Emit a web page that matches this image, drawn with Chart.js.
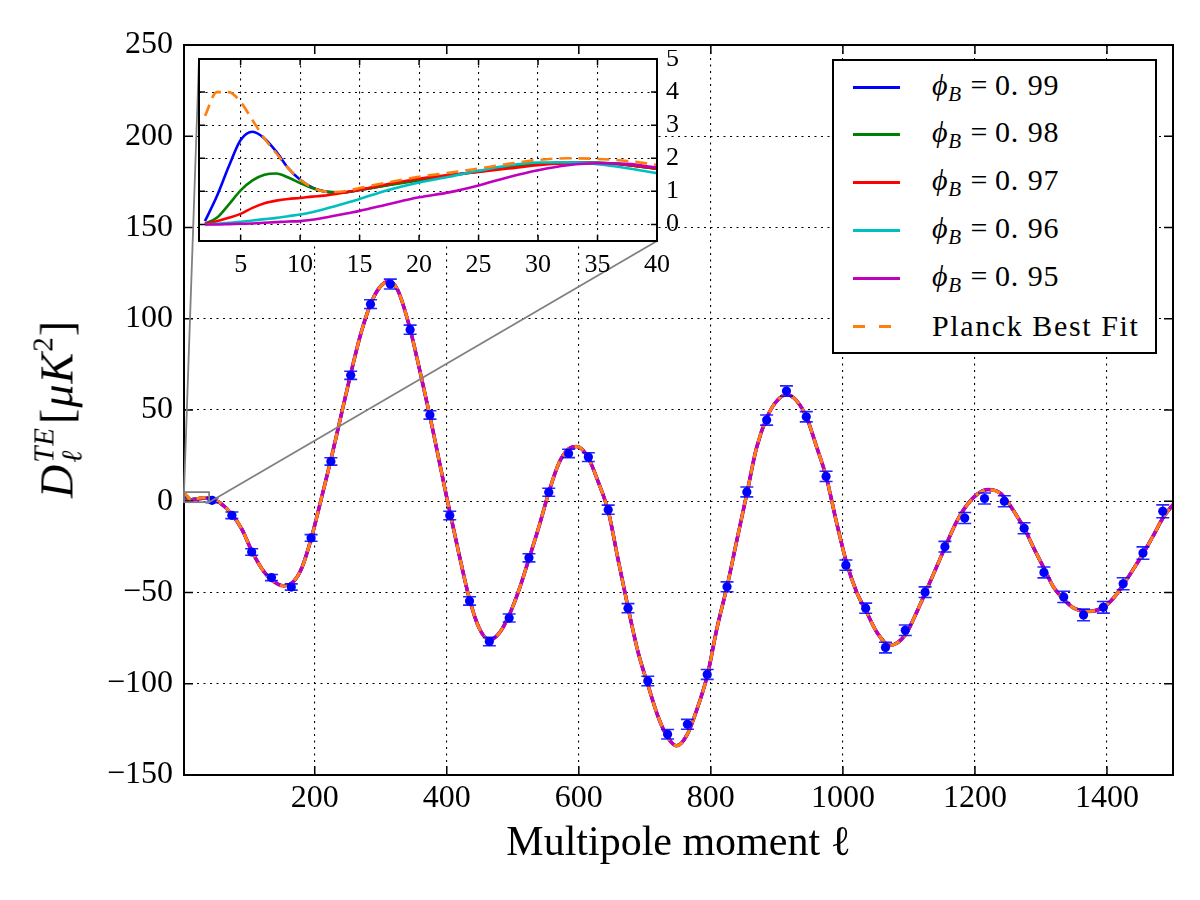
<!DOCTYPE html>
<html>
<head>
<meta charset="utf-8">
<script src="https://cdn.jsdelivr.net/npm/chart.js@4.4.1/dist/chart.umd.min.js"></script>
<style>
html,body{margin:0;padding:0;background:#fff;}
#wrap{position:relative;width:1200px;height:900px;overflow:hidden;}
#main{position:absolute;left:0;top:0;}
#inset{position:absolute;left:190px;top:50px;}
.serif{font-family:"Liberation Serif","DejaVu Serif",serif;color:#000;}
#legend{position:absolute;left:832px;top:59px;width:325px;height:295px;border:2px solid #000;background:#fff;box-sizing:border-box;}
.row{position:absolute;left:0;height:40px;display:flex;align-items:center;width:100%;}
.swatch{position:absolute;left:19px;width:47px;height:3px;}
.lbl{position:absolute;left:98px;font-size:30px;white-space:nowrap;line-height:1;}
.lbl sub{font-size:21px;vertical-align:-6px;}
#ytitle{position:absolute;left:58px;top:409px;transform:translate(-50%,-50%) rotate(-90deg);white-space:nowrap;font-size:46px;line-height:1;letter-spacing:1px;}
.supsub{display:inline-flex;flex-direction:column;vertical-align:19px;font-size:29px;font-style:italic;line-height:0.95;margin:0 3px 0 1px;}
.sq{font-size:29px;position:relative;top:-20px;}
</style>
</head>
<body>
<div id="wrap">
  <canvas id="main" width="1200" height="900"></canvas>
  <canvas id="inset" width="520" height="250"></canvas>
  <div id="ytitle" class="serif"><i>D</i><span class="supsub"><span>TE</span><span>ℓ</span></span>[<i>μK</i><span class="sq">2</span>]</div>
  <div id="legend" class="serif"></div>
</div>
<script>
// ---------------- DATA ----------------
// low-ℓ model curves (shown in the inset), multipole ℓ
const insetEll = [2,3,4,5,6,7,8,9,10,11,12,13,14,15,17.5,20,22.5,25,27.5,30,32.5,35,37.5,40];
const phi099 = [0.1,0.85,1.75,2.55,2.8,2.6,2.2,1.7,1.35,1.12,1.0,0.97,0.98,1.04,1.2,1.36,1.48,1.6,1.72,1.82,1.86,1.86,1.8,1.68];
const phi098 = [0.02,0.2,0.6,1.03,1.33,1.5,1.54,1.42,1.25,1.1,1.0,0.97,0.98,1.04,1.19,1.33,1.47,1.6,1.72,1.82,1.86,1.86,1.8,1.68];
const phi097 = [0.02,0.1,0.2,0.32,0.5,0.64,0.72,0.77,0.8,0.84,0.87,0.92,0.98,1.05,1.23,1.38,1.49,1.59,1.69,1.79,1.85,1.85,1.8,1.69];
const phi096 = [0,0.02,0.05,0.08,0.12,0.16,0.2,0.25,0.3,0.37,0.46,0.56,0.66,0.77,1.05,1.27,1.44,1.62,1.78,1.87,1.88,1.82,1.7,1.55];
const phi095 = [0,0,0.01,0.02,0.03,0.05,0.07,0.09,0.1,0.14,0.2,0.27,0.34,0.41,0.62,0.82,0.97,1.18,1.43,1.64,1.79,1.85,1.83,1.72];
const planckLow = [3.28,4.0,4.0,3.7,3.15,2.6,2.15,1.7,1.35,1.12,1.0,0.98,1.02,1.1,1.28,1.44,1.56,1.69,1.83,1.95,2.0,1.98,1.92,1.8];

// high-ℓ part, common to all curves
const highEll = [45,57,75,90,105,120,136,153,169,181,195,209,224,239,254,270,284,298,312,326,344,358,374,388,400,418,434,449,465,480,495,510,525,540,555,570,584,597,614,629,645,659,675,690,705,720,734,748,764,778,795,809,825,839,855,869,885,900,915,930,945,960,975,990,1005,1021,1035,1051,1071,1095,1109,1125,1140,1155,1170,1185,1203,1220,1238,1248,1259,1275,1289,1305,1319,1335,1350,1372,1395,1410,1425,1441,1455,1471,1485,1500];
const highTE = [1.2,-1.0,-7.3,-15.6,-27.5,-37.0,-43.5,-46.3,-43.5,-36,-20,0,22,45.5,69,92,107.5,117,120.5,115.5,95,73.5,47.5,23,2,-28,-53,-69.5,-76,-72,-62,-48,-31,-13.5,5.5,21,28.5,30,24,11,-6,-31,-59,-83,-101,-118,-129,-134,-128,-115,-95,-70,-46,-22,5,29,46,55,58.5,55,46,30,13,-11,-33,-50,-60,-71.5,-79,-73,-63,-50,-37.6,-25,-12.8,-3.5,3.7,6.4,4.5,0.5,-5.5,-15,-25.6,-37,-47,-54,-58.6,-60.4,-58,-53,-45.5,-36.6,-28.5,-18.3,-9,-1.8];

// binned data points
const dataEll = [44.5,74.5,104.5,134.5,164.5,194.5,224.5,254.5,284.5,314.5,344.5,374.5,404.5,434.5,464.5,494.5,524.5,554.5,584.5,614.5,644.5,674.5,704.5,734.5,764.5,794.5,824.5,854.5,884.5,914.5,944.5,974.5,1004.5,1034.5,1064.5,1094.5,1124.5,1154.5,1184.5,1214.5,1244.5,1274.5,1304.5,1334.5,1364.5,1394.5,1424.5,1454.5,1484.5];
const dataTE = [0.5,-7.7,-27.8,-41.8,-47,-20.1,21.8,69,108,119,94,47.3,-7.8,-54.6,-76.9,-64,-31,4.9,26.2,24.2,-4.6,-58.6,-98.5,-127.7,-122.2,-94.9,-46.9,5.1,44.5,60.4,46.3,13.6,-35,-58.6,-80.2,-70.7,-49.8,-24.9,-9.2,1.5,0,-14.8,-39,-52.4,-62.3,-58.1,-45.2,-28.4,-5.5];
const dataErr = [1.3,1.8,1.8,1.7,1.7,1.8,2.0,2.2,2.4,2.7,2.5,2.3,2.3,2.3,2.3,2.2,2.2,2.2,2.3,2.4,2.5,2.5,2.6,2.6,2.7,2.7,2.7,2.7,2.8,2.8,2.8,2.8,2.8,2.8,2.9,2.9,2.9,2.9,3.0,3.0,3.0,3.0,3.0,3.1,3.2,3.2,3.3,3.4,3.5];

const seriesNames = ['ϕB = 0.99','ϕB = 0.98','ϕB = 0.97','ϕB = 0.96','ϕB = 0.95','Planck Best Fit'];
const seriesLow = [phi099, phi098, phi097, phi096, phi095, planckLow];
const seriesColors = ['#0000ff','#008000','#ff0000','#00bfbf','#bf00bf','#ff7f0e'];
const phiValues = ['0.99','0.98','0.97','0.96','0.95'];

const mainXTicks = [200,400,600,800,1000,1200,1400];
const mainYTicks = [-150,-100,-50,0,50,100,150,200,250];
const insetXTicks = [5,10,15,20,25,30,35,40];
const insetYTicks = [0,1,2,3,4,5];
const mainXRange = [2,1500];
const mainYRange = [-150,250];
const insetXRange = [1.5,40];
const insetYRange = [-0.5,5];

// ---------------- HELPERS ----------------
Chart.defaults.font.family = "'Liberation Serif','DejaVu Serif',serif";
Chart.defaults.color = '#000';
const fmt = v => (v < 0 ? '\u2212' + Math.abs(v) : String(v));
const pts = (xs, ys) => xs.map((x, i) => ({x, y: ys[i]}));

const framePlugin = {
  id: 'frameTicks',
  beforeDraw(chart, args, opts) {
    if (!opts.fill) return;
    const a = chart.chartArea, ctx = chart.ctx;
    ctx.save(); ctx.fillStyle = opts.fill;
    ctx.fillRect(a.left, a.top, a.right - a.left, a.bottom - a.top);
    ctx.restore();
  },
  afterDatasetsDraw(chart, args, opts) {
    const {ctx, chartArea: a, scales: {x, y}} = chart;
    const L = opts.len || 8;
    ctx.save();
    ctx.strokeStyle = '#000'; ctx.lineWidth = 1.5;
    ctx.beginPath();
    x.ticks.forEach(t => {
      const px = x.getPixelForValue(t.value);
      ctx.moveTo(px, a.bottom); ctx.lineTo(px, a.bottom - L);
      ctx.moveTo(px, a.top); ctx.lineTo(px, a.top + L);
    });
    y.ticks.forEach(t => {
      const py = y.getPixelForValue(t.value);
      ctx.moveTo(a.left, py); ctx.lineTo(a.left + L, py);
      ctx.moveTo(a.right, py); ctx.lineTo(a.right - L, py);
    });
    ctx.stroke();
    ctx.lineWidth = opts.frameWidth || 2;
    ctx.strokeRect(a.left, a.top, a.right - a.left, a.bottom - a.top);
    ctx.restore();
  }
};

const errorBarPlugin = {
  id: 'errorBars',
  beforeDatasetDraw(chart, args) {
    const ds = chart.data.datasets[args.index];
    if (!ds.errors) return;
    const {ctx, scales: {x, y}} = chart;
    ctx.save();
    ctx.strokeStyle = 'rgba(0,0,255,0.85)'; ctx.lineWidth = 1.6;
    ds.data.forEach((p, i) => {
      const px = x.getPixelForValue(p.x);
      const y1 = y.getPixelForValue(p.y - ds.errors[i]);
      const y2 = y.getPixelForValue(p.y + ds.errors[i]);
      ctx.beginPath();
      ctx.moveTo(px, y1); ctx.lineTo(px, y2);
      ctx.moveTo(px - 6.5, y1); ctx.lineTo(px + 6.5, y1);
      ctx.moveTo(px - 6.5, y2); ctx.lineTo(px + 6.5, y2);
      ctx.stroke();
    });
    ctx.restore();
  }
};

function zeroPad(s) { s.paddingTop = 0; s.paddingBottom = 0; s.paddingLeft = 0; s.paddingRight = 0; }

function axisCommon(range, ticks, font, padding) {
  return {
    type: 'linear', min: range[0], max: range[1],
    afterBuildTicks: s => { s.ticks = ticks.map(v => ({value: v})); },
    ticks: {callback: v => fmt(v), font: {size: font}, color: '#000', padding: padding, autoSkip: false, maxRotation: 0},
    grid: {color: '#000', lineWidth: 1.1, drawTicks: false},
    border: {display: false, dash: [2, 4.5]}
  };
}

// ---------------- INSET ----------------
const insetDatasets = seriesLow.map((arr, i) => ({
  label: seriesNames[i],
  data: pts(insetEll, arr),
  borderColor: seriesColors[i],
  borderWidth: 2.6,
  borderDash: i === 5 ? [12, 7] : [],
  pointRadius: 0,
  fill: false,
  cubicInterpolationMode: 'monotone',
  order: 6 - i
}));

const insetX = axisCommon(insetXRange, insetXTicks, 26, 9);
insetX.afterFit = s => { s.height = 59; zeroPad(s); };
const insetY = axisCommon(insetYRange, insetYTicks, 26, 9);
insetY.position = 'right';
insetY.afterFit = s => { s.width = 53; zeroPad(s); };

const insetChart = new Chart(document.getElementById('inset'), {
  type: 'line',
  data: {datasets: insetDatasets},
  options: {
    responsive: false, animation: false, events: [],
    layout: {padding: {left: 9, top: 9, right: 0, bottom: 0}},
    plugins: {legend: {display: false}, tooltip: {enabled: false}, frameTicks: {len: 6, frameWidth: 2, fill: '#fff'}},
    scales: {x: insetX, y: insetY}
  },
  plugins: [framePlugin]
});

// ---------------- MAIN ----------------
const markInsetPlugin = {
  id: 'markInset',
  afterDatasetsDraw(chart) {
    const {ctx, scales: {x, y}} = chart;
    const x0 = x.getPixelForValue(Math.max(insetXRange[0], mainXRange[0]));
    const x1 = x.getPixelForValue(insetXRange[1]);
    const y0 = y.getPixelForValue(insetYRange[0]);
    const y1 = y.getPixelForValue(insetYRange[1]);
    const mc = document.getElementById('main').getBoundingClientRect();
    const ic = document.getElementById('inset').getBoundingClientRect();
    const ox = ic.left - mc.left, oy = ic.top - mc.top;
    const ia = insetChart.chartArea;
    ctx.save();
    ctx.strokeStyle = '#808080'; ctx.lineWidth = 1.8;
    ctx.strokeRect(x0, y1, x1 - x0, y0 - y1);
    ctx.beginPath();
    ctx.moveTo(x0, y1); ctx.lineTo(ox + ia.left, oy + ia.top);
    ctx.moveTo(x1, y0); ctx.lineTo(ox + ia.right, oy + ia.bottom);
    ctx.stroke();
    ctx.restore();
  }
};

const mainDatasets = seriesLow.map((arr, i) => ({
  label: seriesNames[i],
  data: pts(insetEll.concat(highEll), arr.concat(highTE)),
  borderColor: seriesColors[i],
  borderWidth: i === 4 ? 3.6 : 3,
  borderDash: i === 5 ? [10, 6] : [],
  pointRadius: 0,
  fill: false,
  cubicInterpolationMode: 'monotone',
  order: 7 - i
}));
mainDatasets.push({
  label: 'Planck data',
  data: pts(dataEll, dataTE),
  errors: dataErr,
  showLine: false,
  pointRadius: 4.6,
  pointBackgroundColor: '#0000ff',
  pointBorderWidth: 0,
  order: 0
});

const mainX = axisCommon(mainXRange, mainXTicks, 32, 4);
mainX.afterFit = s => { s.height = 125; zeroPad(s); };
mainX.title = {display: true, text: 'Multipole moment ℓ', font: {size: 42}, color: '#000', padding: {top: 0, bottom: 31}};
const mainY = axisCommon(mainYRange, mainYTicks, 32, 11);
mainY.afterFit = s => { s.width = 184; zeroPad(s); };

const mainChart = new Chart(document.getElementById('main'), {
  type: 'line',
  data: {datasets: mainDatasets},
  options: {
    responsive: false, animation: false, events: [],
    layout: {padding: {left: 0, top: 45, right: 27, bottom: 0}},
    plugins: {legend: {display: false}, tooltip: {enabled: false}, frameTicks: {len: 9, frameWidth: 2}},
    scales: {x: mainX, y: mainY}
  },
  plugins: [framePlugin, errorBarPlugin, markInsetPlugin]
});

// ---------------- LEGEND (HTML, built from the chart's datasets) ----------------
const legend = document.getElementById('legend');
insetChart.data.datasets.forEach((ds, i) => {
  const row = document.createElement('div');
  row.className = 'row';
  row.style.top = (6 + i * 47.8) + 'px';
  const sw = document.createElement('div');
  sw.className = 'swatch';
  if (i === 5) {
    sw.style.background = 'repeating-linear-gradient(to right,' + ds.borderColor + ' 0 12px, transparent 12px 26px)';
    sw.style.width = '38px';
  } else {
    sw.style.background = ds.borderColor;
  }
  row.appendChild(sw);
  const lb = document.createElement('div');
  lb.className = 'lbl';
  if (i < 5) {
    const parts = phiValues[i].split('.');
    lb.innerHTML = '<i>ϕ</i><sub><i>B</i></sub><span style="margin:0 7px 0 9px">=</span>' + parts[0] + '.<span style="margin-left:9px">' + parts[1] + '</span>';
    lb.style.letterSpacing = '0.6px';
  } else {
    lb.textContent = ds.label;
    lb.style.letterSpacing = '1.6px';
  }
  row.appendChild(lb);
  legend.appendChild(row);
});
</script>
</body>
</html>
